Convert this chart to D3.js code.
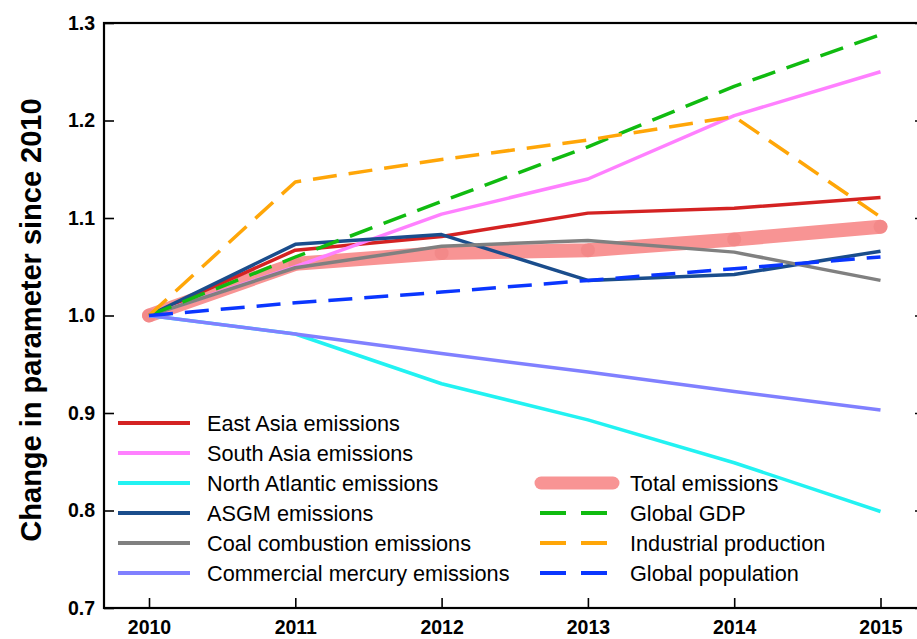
<!DOCTYPE html>
<html>
<head>
<meta charset="utf-8">
<script src="https://cdn.jsdelivr.net/npm/d3@7"></script>
<style>
  html, body { margin: 0; padding: 0; background: #fff; }
  svg { display: block; }
  text { font-family: "Liberation Sans", Arial, sans-serif; fill: #000; }
</style>
</head>
<body>
<svg id="chart" width="917" height="639"></svg>
<script>
// Years and per-series change relative to 2010
const years = [2010, 2011, 2012, 2013, 2014, 2015];
const eastAsia      = [1.000, 1.067, 1.081, 1.105, 1.110, 1.121];
const southAsia     = [1.000, 1.050, 1.104, 1.140, 1.205, 1.250];
const northAtlantic = [1.000, 0.981, 0.930, 0.893, 0.849, 0.799];
const asgm          = [1.000, 1.073, 1.083, 1.036, 1.042, 1.066];
const coal          = [1.000, 1.049, 1.071, 1.077, 1.065, 1.036];
const commercial    = [1.000, 0.981, 0.961, 0.942, 0.922, 0.903];
const totalEmis     = [1.000, 1.053, 1.064, 1.067, 1.078, 1.091];
const globalGDP     = [1.000, 1.060, 1.117, 1.173, 1.235, 1.288];
const industrial    = [1.000, 1.137, 1.160, 1.180, 1.204, 1.101];
const population    = [1.000, 1.013, 1.024, 1.036, 1.048, 1.060];

const yTicks = [0.7, 0.8, 0.9, 1.0, 1.1, 1.2, 1.3];
const yTitle = "Change in parameter since 2010";

const seriesLeft = [
  { name: "East Asia emissions",          values: eastAsia,      color: "#d42222" },
  { name: "South Asia emissions",         values: southAsia,     color: "#ff80ff" },
  { name: "North Atlantic emissions",     values: northAtlantic, color: "#22f2f2" },
  { name: "ASGM emissions",               values: asgm,          color: "#1a4d8c" },
  { name: "Coal combustion emissions",    values: coal,          color: "#808080" },
  { name: "Commercial mercury emissions", values: commercial,    color: "#8080ff" }
];
const seriesRight = [
  { name: "Total emissions",       values: totalEmis,  color: "#f89494", thick: true },
  { name: "Global GDP",            values: globalGDP,  color: "#10bb10", dashed: true },
  { name: "Industrial production", values: industrial, color: "#ffa608", dashed: true },
  { name: "Global population",     values: population, color: "#0a36ff", dashed: true }
];

const svg = d3.select("#chart");
const frame = { left: 104, right: 925, top: 23, bottom: 608 };

const x = d3.scaleLinear().domain([2010, 2015]).range([149, 880.5]);
const y = d3.scaleLinear().domain([0.7, 1.3]).range([frame.bottom, frame.top]);

const line = d3.line()
  .x((d, i) => x(years[i]))
  .y(d => y(d));

// Total emissions: broad band with point markers, beneath the other lines
const total = seriesRight[0];
svg.append("path")
  .attr("d", line(total.values))
  .attr("fill", "none")
  .attr("stroke", total.color)
  .attr("stroke-width", 14)
  .attr("stroke-linecap", "round")
  .attr("stroke-linejoin", "round");
svg.selectAll("circle.tot")
  .data(total.values)
  .enter().append("circle")
  .attr("class", "tot")
  .attr("cx", (d, i) => x(years[i]))
  .attr("cy", d => y(d))
  .attr("r", 7)
  .attr("fill", "#f08282")
  .attr("opacity", 0.6);

// Emission series (solid) and driver series (dashed)
const drawn = seriesLeft.concat(seriesRight.slice(1));
svg.selectAll("path.series")
  .data(drawn)
  .enter().append("path")
  .attr("class", "series")
  .attr("d", s => line(s.values))
  .attr("fill", "none")
  .attr("stroke", s => s.color)
  .attr("stroke-width", 3.5)
  .attr("stroke-linejoin", "round")
  .attr("stroke-dasharray", s => s.dashed ? "24,12" : null);

// Frame
svg.append("rect")
  .attr("x", frame.left).attr("y", frame.top)
  .attr("width", frame.right - frame.left)
  .attr("height", frame.bottom - frame.top)
  .attr("fill", "none")
  .attr("stroke", "#000")
  .attr("stroke-width", 2.2);

// Axes with inward ticks
const tickFont = g => g.selectAll("text")
  .style("font-family", "'Liberation Sans', Arial, sans-serif")
  .style("font-weight", "bold")
  .style("font-size", "19.5px")
  .attr("fill", "#000");

const yAxis = d3.axisLeft(y).tickValues(yTicks).tickFormat(d3.format(".1f"))
  .tickSizeInner(-10).tickSizeOuter(0).tickPadding(9);
svg.append("g").attr("transform", `translate(${frame.left},0)`).call(yAxis)
  .call(g => g.select(".domain").remove())
  .call(g => g.selectAll("line").attr("stroke", "#000").attr("stroke-width", 1.6))
  .call(tickFont);

const yAxisRight = d3.axisRight(y).tickValues(yTicks).tickFormat("")
  .tickSizeInner(-10).tickSizeOuter(0);
svg.append("g").attr("transform", `translate(${frame.right},0)`).call(yAxisRight)
  .call(g => g.select(".domain").remove())
  .call(g => g.selectAll("line").attr("stroke", "#000").attr("stroke-width", 1.6));

const xAxis = d3.axisBottom(x).tickValues(years).tickFormat(d3.format("d"))
  .tickSizeInner(-10).tickSizeOuter(0).tickPadding(12);
svg.append("g").attr("transform", `translate(0,${frame.bottom})`).call(xAxis)
  .call(g => g.select(".domain").remove())
  .call(g => g.selectAll("line").attr("stroke", "#000").attr("stroke-width", 1.6))
  .call(tickFont);

// Y-axis title
svg.append("text")
  .attr("transform", "translate(41,320) rotate(-90)")
  .attr("text-anchor", "middle")
  .style("font-weight", "bold")
  .style("font-size", "29px")
  .text(yTitle);

// Legend
const rowY = i => 423 + i * 30;
const legL = svg.append("g");
seriesLeft.forEach((s, i) => {
  legL.append("line")
    .attr("x1", 118).attr("x2", 190)
    .attr("y1", rowY(i)).attr("y2", rowY(i))
    .attr("stroke", s.color).attr("stroke-width", 4);
  legL.append("text")
    .attr("x", 207).attr("y", rowY(i)).attr("dy", "0.36em")
    .style("font-size", "21.7px")
    .text(s.name);
});
const legR = svg.append("g");
seriesRight.forEach((s, i) => {
  const yy = rowY(i + 2);
  if (s.thick) {
    legR.append("line")
      .attr("x1", 541).attr("x2", 613)
      .attr("y1", yy).attr("y2", yy)
      .attr("stroke", s.color).attr("stroke-width", 13)
      .attr("stroke-linecap", "round");
  } else {
    legR.append("line")
      .attr("x1", 540).attr("x2", 609)
      .attr("y1", yy).attr("y2", yy)
      .attr("stroke", s.color).attr("stroke-width", 4)
      .attr("stroke-dasharray", "26,15");
  }
  legR.append("text")
    .attr("x", 630).attr("y", yy).attr("dy", "0.36em")
    .style("font-size", "21.7px")
    .text(s.name);
});
</script>
</body>
</html>
